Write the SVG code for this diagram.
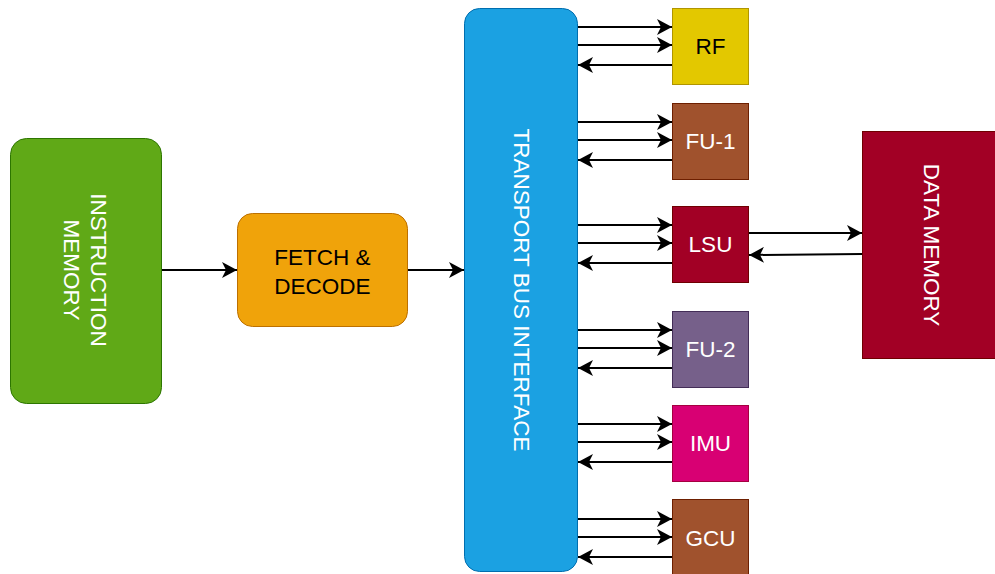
<svg xmlns="http://www.w3.org/2000/svg" width="995" height="574" viewBox="0 0 995 574">
<style>
text{font-family:"Liberation Sans",Arial,sans-serif;font-size:22.5px;text-anchor:middle;dominant-baseline:central}
.w{fill:#ffffff}.k{fill:#000000}
.c line{stroke:#000;stroke-width:2;fill:none}
</style>
<defs>
<marker id="a" markerUnits="userSpaceOnUse" markerWidth="16" markerHeight="16" refX="15" refY="8" orient="auto">
<path d="M0,0 L15,8 L0,16 L4,8 z" fill="#000"/>
</marker>
</defs>
<rect width="995" height="574" fill="#ffffff"/>
<g class="c" id="connectors">
<line x1="162" y1="270" x2="237" y2="270" marker-end="url(#a)"/>
<line x1="408" y1="270" x2="464" y2="270" marker-end="url(#a)"/>
<line x1="578" y1="27" x2="672" y2="27" marker-end="url(#a)"/>
<line x1="578" y1="45" x2="672" y2="45" marker-end="url(#a)"/>
<line x1="672" y1="65" x2="578" y2="65" marker-end="url(#a)"/>
<line x1="578" y1="122" x2="672" y2="122" marker-end="url(#a)"/>
<line x1="578" y1="140" x2="672" y2="140" marker-end="url(#a)"/>
<line x1="672" y1="160" x2="578" y2="160" marker-end="url(#a)"/>
<line x1="578" y1="225" x2="672" y2="225" marker-end="url(#a)"/>
<line x1="578" y1="243" x2="672" y2="243" marker-end="url(#a)"/>
<line x1="672" y1="263" x2="578" y2="263" marker-end="url(#a)"/>
<line x1="749" y1="233" x2="862" y2="233" marker-end="url(#a)"/>
<line x1="862" y1="254" x2="749" y2="255" marker-end="url(#a)"/>
<line x1="578" y1="330" x2="672" y2="330" marker-end="url(#a)"/>
<line x1="578" y1="348" x2="672" y2="348" marker-end="url(#a)"/>
<line x1="672" y1="368" x2="578" y2="368" marker-end="url(#a)"/>
<line x1="578" y1="424" x2="672" y2="424" marker-end="url(#a)"/>
<line x1="578" y1="442" x2="672" y2="442" marker-end="url(#a)"/>
<line x1="672" y1="462" x2="578" y2="462" marker-end="url(#a)"/>
<line x1="578" y1="519" x2="672" y2="519" marker-end="url(#a)"/>
<line x1="578" y1="537" x2="672" y2="537" marker-end="url(#a)"/>
<line x1="672" y1="557" x2="578" y2="557" marker-end="url(#a)"/>
</g>
<g id="instruction-memory">
<rect x="10.5" y="138.5" width="151" height="265" rx="16" fill="#60a917" stroke="#2d7600"/>
<text class="w" transform="translate(86,270) rotate(90)"><tspan x="0" y="-13">INSTRUCTION</tspan><tspan x="0" y="14">MEMORY</tspan></text>
</g>
<g id="fetch-decode">
<rect x="237.5" y="213.5" width="170" height="113" rx="15" fill="#f0a30a" stroke="#bd7000"/>
<text class="k"><tspan x="322.5" y="257">FETCH &amp;</tspan><tspan x="322.5" y="286">DECODE</tspan></text>
</g>
<g id="transport-bus">
<rect x="464.5" y="8.5" width="113" height="563" rx="15" fill="#1ba1e2" stroke="#006eaf"/>
<text class="w" transform="translate(521,290) rotate(90)">TRANSPORT BUS INTERFACE</text>
</g>
<g id="rf">
<rect x="672.5" y="8.5" width="76" height="76" fill="#e3c800" stroke="#b09500"/>
<text class="k" x="710.5" y="46.5">RF</text>
</g>
<g id="fu1">
<rect x="672.5" y="103.5" width="76" height="76" fill="#a0522d" stroke="#6d1f00"/>
<text class="w" x="710.5" y="141.5">FU-1</text>
</g>
<g id="lsu">
<rect x="672.5" y="206.5" width="76" height="76" fill="#a20025" stroke="#6f0000"/>
<text class="w" x="710.5" y="244.5">LSU</text>
</g>
<g id="fu2">
<rect x="672.5" y="311.5" width="76" height="76" fill="#76608a" stroke="#432d57"/>
<text class="w" x="710.5" y="349.5">FU-2</text>
</g>
<g id="imu">
<rect x="672.5" y="405.5" width="76" height="76" fill="#d80073" stroke="#a50040"/>
<text class="w" x="710.5" y="443.5">IMU</text>
</g>
<g id="gcu">
<rect x="672.5" y="499.5" width="76" height="76" fill="#a0522d" stroke="#6d1f00"/>
<text class="w" x="710.5" y="538.5">GCU</text>
</g>
<g id="data-memory">
<rect x="862.5" y="131.5" width="136" height="227" fill="#a20025" stroke="#6f0000"/>
<text class="w" transform="translate(931,245) rotate(90)">DATA MEMORY</text>
</g>
</svg>
